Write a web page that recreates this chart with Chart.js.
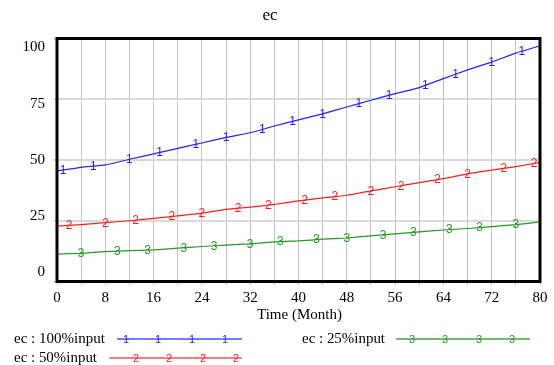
<!DOCTYPE html>
<html><head><meta charset="utf-8">
<script src="https://cdn.jsdelivr.net/npm/chart.js@4"></script>
<style>html,body{margin:0;padding:0;background:#fff}canvas{display:block}</style>
</head><body>
<canvas id="c" width="554" height="365"></canvas>
<script>
// ---- data ----
const months = [0,4,8,12,16,20,24,28,32,36,40,44,48,52,56,60,64,68,72,76,80];
const series100 = [45.5,47,48,50.3,52.5,54.8,57,59.3,61.2,64,66.5,69,71.8,74.6,77.3,79.8,83.5,87.1,90.3,94,97];
const series50  = [22.8,23.4,24.2,25,26,27,28.1,29.7,30.6,31.7,33.2,34.4,35.5,37.3,39,40.7,42.3,44.3,45.8,47.3,49];
const series25  = [11.3,11.6,12.3,12.7,13,13.7,14.4,15,15.5,16.3,16.7,17.4,17.9,18.8,19.6,20.4,21.2,21.8,22.6,23.4,24.5];
const marks100 = [1,6,12,17,23,28,34,39,44,50,55,61,66,72,77];
const marks50  = [2,8,13,19,24,30,35,41,46,52,57,63,68,74,79];
const marks25  = [4,10,15,21,26,32,37,43,48,54,59,65,70,76];
const xTickLabels = ['0','8','16','24','32','40','48','56','64','72','80'];
const yTickValues = [0,25,50,75,100];
const yTickLabels = ['0','25','50','75','100'];
const seriesNames = ['ec : 100%input','ec : 50%input','ec : 25%input'];
const seriesGlyphs = ['1','2','3'];
const chartTitle = 'ec';
const xTitle = 'Time (Month)';

// ---- styles ----
const lineColors = ['rgb(35,35,255)','rgb(255,30,30)','rgb(40,150,40)'];
const legendLineColors = ['rgb(120,120,255)','rgb(255,125,125)','rgb(115,185,115)'];
const SERIF = '"Liberation Serif","DejaVu Serif",serif';
const SANS = '"Liberation Sans","DejaVu Sans",sans-serif';

function pts(vals){ return months.map((m,i)=>({x:m,y:vals[i]})); }
function interp(vals,t){
  for(let i=0;i<months.length-1;i++){
    if(t>=months[i] && t<=months[i+1]){
      const f=(t-months[i])/(months[i+1]-months[i]);
      return vals[i]+f*(vals[i+1]-vals[i]);
    }
  }
  return vals[vals.length-1];
}
const allSeries=[series100,series50,series25];
const allMarks=[marks100,marks50,marks25];

const decor = {
  id:'decor',
  afterDatasetsDraw(chart){
    const ctx=chart.ctx, xs=chart.scales.x, ys=chart.scales.y, a=chart.chartArea;
    ctx.save();
    // markers
    ctx.font='12px '+SANS; ctx.textAlign='center'; ctx.textBaseline='middle';
    allSeries.forEach((vals,si)=>{
      ctx.fillStyle=lineColors[si];
      allMarks[si].forEach(t=>{
        ctx.fillText(seriesGlyphs[si], xs.getPixelForValue(t), ys.getPixelForValue(interp(vals,t))+0.5);
      });
    });
    // border
    ctx.strokeStyle='#000'; ctx.lineWidth=3;
    ctx.strokeRect(a.left,a.top,a.right-a.left,a.bottom-a.top);
    // y labels (compressed toward the middle as in reference)
    ctx.fillStyle='#000'; ctx.font='15px '+SERIF; ctx.textAlign='right'; ctx.textBaseline='middle';
    const mid=(a.top+a.bottom)/2;
    yTickValues.forEach((v,i)=>{
      const p=ys.getPixelForValue(v);
      ctx.fillText(yTickLabels[i], a.left-12, mid+(p-mid)*0.926);
    });
    // title
    ctx.textAlign='center'; ctx.font='17px '+SERIF;
    ctx.fillText(chartTitle, 270, 16);
    // x title
    ctx.font='15px '+SERIF;
    ctx.fillText(xTitle, (a.left+a.right)/2+1, 315);
    // legend
    const rows=[
      {si:0, tx:14, tw:91, y:339, l0:117, l1:242, m:[126,158,192,225]},
      {si:1, tx:14, tw:83, y:358, l0:109, l1:242, m:[136,169,203,236]},
      {si:2, tx:302, tw:83, y:339, l0:396, l1:530, m:[412,445,479,512]}
    ];
    rows.forEach(r=>{
      ctx.fillStyle='#000'; ctx.font='15px '+SERIF; ctx.textAlign='left';
      ctx.fillText(seriesNames[r.si], r.tx, r.y, r.tw);
      ctx.strokeStyle=legendLineColors[r.si]; ctx.lineWidth=2;
      ctx.beginPath(); ctx.moveTo(r.l0,r.y); ctx.lineTo(r.l1,r.y); ctx.stroke();
      ctx.fillStyle=lineColors[r.si]; ctx.font='11px '+SANS; ctx.textAlign='center';
      r.m.forEach(x=>ctx.fillText(seriesGlyphs[r.si], x, r.y+0.5));
    });
    ctx.restore();
  }
};

new Chart(document.getElementById('c'),{
  type:'line',
  data:{datasets: allSeries.map((vals,i)=>({
    label:seriesNames[i], data:pts(vals), borderColor:lineColors[i], borderWidth:1.2,
    pointRadius:0, tension:0.15, fill:false
  }))},
  options:{
    responsive:false, animation:false,
    layout:{padding:{left:0,right:14,top:38.5,bottom:0}},
    plugins:{legend:{display:false}, title:{display:false}, tooltip:{enabled:false}},
    scales:{
      x:{type:'linear', min:0, max:80,
        afterFit(s){ s.height=365-281.5; },
        border:{display:false},
        grid:{color:'#c4c4c4', lineWidth:1, tickLength:4},
        ticks:{stepSize:4, autoSkip:false, maxRotation:0, padding:4, color:'#000',
          font:{family:SERIF, size:15},
          callback:(v)=> (v%8===0 ? xTickLabels[v/8] : '')}
      },
      y:{type:'linear', min:0, max:100,
        afterFit(s){ s.width=57; },
        border:{display:false},
        grid:{color:'#d9d9d9', lineWidth:2, tickLength:4},
        ticks:{stepSize:25, display:false}
      }
    }
  },
  plugins:[decor]
});
</script>
</body></html>
